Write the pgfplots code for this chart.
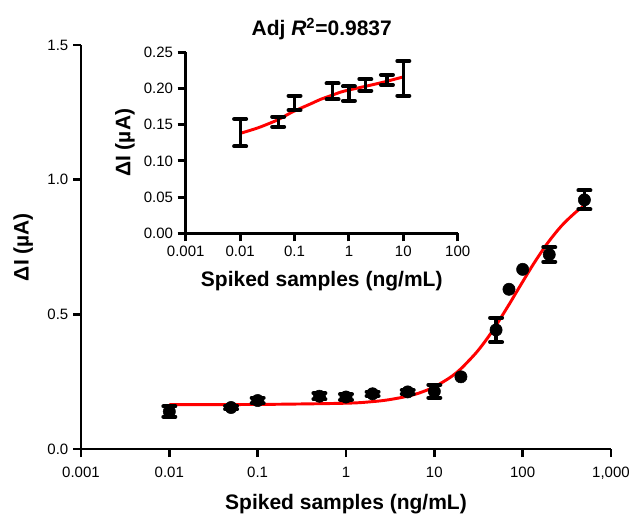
\documentclass[border=0pt]{standalone}
\usepackage{pgfplots}
\usepackage{pgfplotstable}
\pgfplotsset{compat=1.18}
\usepackage{fontspec}
\setmainfont{Liberation Sans}
\pgfplotstableread{
x y e lo hi
0.01 0.139 0.019 0.120 0.158
0.05 0.154 0.007 0.147 0.161
0.1 0.180 0.010 0.170 0.190
0.5 0.196 0.011 0.185 0.207
1 0.193 0.010 0.183 0.203
2 0.205 0.008 0.197 0.213
5 0.212 0.007 0.205 0.219
10 0.214 0.024 0.190 0.238
}\lowbars
\pgfplotstableread{
x y e lo hi
50 0.442 0.045 0.397 0.487
200 0.722 0.027 0.695 0.749
500 0.925 0.035 0.890 0.960
}\highbars
\begin{document}
\begin{tikzpicture}
\useasboundingbox (0pt,0pt) rectangle (475.5pt,385.5pt);
% main axis
\begin{axis}[
  scale only axis,
  axis lines=left,
  axis line style={-, line width=2.2pt},
  tick align=outside,
  major tick length=6pt,
  tick style={line width=2.2pt, black},
  xmode=log, log basis x=10,
  xminorticks=false,
  /pgf/number format/assume math mode=true,
  tick label style={font=\fontsize{11.25}{13}\selectfont},
  label style={font=\bfseries\fontsize{15.75}{18}\selectfont},
  clip=false,
  at={(60.75pt,48.75pt)}, anchor=south west,
  width=397.5pt, height=303pt,
  xmin=0.001, xmax=1000, ymin=0, ymax=1.5,
  xtick={0.001,0.01,0.1,1,10,100,1000},
  xticklabels={0.001,0.01,0.1,1,10,100,{1,000}},
  xticklabel style={yshift=-4pt},
  ytick={0,0.5,1.0,1.5},
  yticklabel style={/pgf/number format/.cd, fixed, fixed zerofill, precision=1},
  xlabel={Spiked samples (ng/mL)},
  ylabel={ΔI (µA)},
  xlabel style={yshift=-4pt},
  ylabel style={yshift=4pt},
]
\addplot[red, line width=2.2pt, smooth] coordinates {
(0.01,0.165) (0.1,0.1654) (1,0.170) (2,0.176) (3,0.1825) (5,0.196) (7,0.2098)
(10,0.2307) (15,0.265) (20,0.298) (30,0.3587) (40,0.412) (50,0.459) (70,0.536)
(85,0.5825) (100,0.621) (130,0.6825) (170,0.7406) (200,0.7728) (250,0.8127)
(300,0.8414) (400,0.8796) (500,0.9037)};
% error bar stems: vertical marks whose half-length is the error (202 pt per unit)
\addplot[scatter, only marks, mark=|, black,
  scatter/use mapped color={draw=black, fill=black},
  visualization depends on={202*\thisrow{e} \as \errpt},
  scatter/@pre marker code/.append style={/tikz/mark size=\errpt pt},
  mark options={line width=2.4pt}] table[x=x, y=y] {\lowbars};
\addplot[scatter, only marks, mark=|, black,
  scatter/use mapped color={draw=black, fill=black},
  visualization depends on={202*\thisrow{e} \as \errpt},
  scatter/@pre marker code/.append style={/tikz/mark size=\errpt pt},
  mark options={line width=2.4pt}] table[x=x, y=y] {\highbars};
\addplot[only marks, black, mark=-, mark size=4.5pt, mark options={line width=3pt, line cap=round}] table[x=x, y=lo] {\lowbars};
\addplot[only marks, black, mark=-, mark size=4.5pt, mark options={line width=3pt, line cap=round}] table[x=x, y=hi] {\lowbars};
\addplot[only marks, black, mark=-, mark size=4.5pt, mark options={line width=3pt, line cap=round}] table[x=x, y=lo] {\highbars};
\addplot[only marks, black, mark=-, mark size=4.5pt, mark options={line width=3pt, line cap=round}] table[x=x, y=hi] {\highbars};
\addplot[only marks, mark=*, mark size=4.6pt, black] table[x=x, y=y] {
x y
0.01 0.139
0.05 0.154
0.1 0.180
0.5 0.196
1 0.193
2 0.205
5 0.212
10 0.214
20 0.268
50 0.442
70 0.593
100 0.667
200 0.722
500 0.925
};
\end{axis}
% inset
\begin{axis}[
  scale only axis,
  axis lines=left,
  axis line style={-, line width=2.2pt},
  tick align=outside,
  major tick length=6pt,
  tick style={line width=2.2pt, black},
  xmode=log, log basis x=10,
  xminorticks=false,
  /pgf/number format/assume math mode=true,
  tick label style={font=\fontsize{11.25}{13}\selectfont},
  label style={font=\bfseries\fontsize{15.75}{18}\selectfont},
  clip=false,
  at={(139.3pt,210.5pt)}, anchor=south west,
  width=204pt, height=135.75pt,
  xmin=0.001, xmax=100, ymin=0, ymax=0.25,
  xtick={0.001,0.01,0.1,1,10,100},
  xticklabels={0.001,0.01,0.1,1,10,100},
  ytick={0,0.05,0.10,0.15,0.20,0.25},
  yticklabel style={/pgf/number format/.cd, fixed, fixed zerofill, precision=2},
  xlabel={Spiked samples (ng/mL)},
  ylabel={ΔI (µA)},
  xlabel style={yshift=-4pt},
  title={Adj \textit{R}\textsuperscript{2}=0.9837},
  title style={font=\bfseries\fontsize{15.75}{18}\selectfont},
]
\addplot[red, line width=2.2pt, smooth] coordinates {
(0.01,0.138) (0.02,0.145) (0.03,0.150) (0.05,0.157) (0.07,0.163) (0.1,0.169)
(0.2,0.179) (0.3,0.185) (0.5,0.191) (0.7,0.195) (1,0.198) (2,0.203) (3,0.206)
(5,0.210) (7,0.213) (10,0.216)};
% stems: 543 pt per unit on this axis
\addplot[scatter, only marks, mark=|, black,
  scatter/use mapped color={draw=black, fill=black},
  visualization depends on={543*\thisrow{e} \as \errpt},
  scatter/@pre marker code/.append style={/tikz/mark size=\errpt pt},
  mark options={line width=2.4pt}] table[x=x, y=y] {\lowbars};
\addplot[only marks, black, mark=-, mark size=4.5pt, mark options={line width=3pt, line cap=round}] table[x=x, y=lo] {\lowbars};
\addplot[only marks, black, mark=-, mark size=4.5pt, mark options={line width=3pt, line cap=round}] table[x=x, y=hi] {\lowbars};
\end{axis}
\end{tikzpicture}
\end{document}
